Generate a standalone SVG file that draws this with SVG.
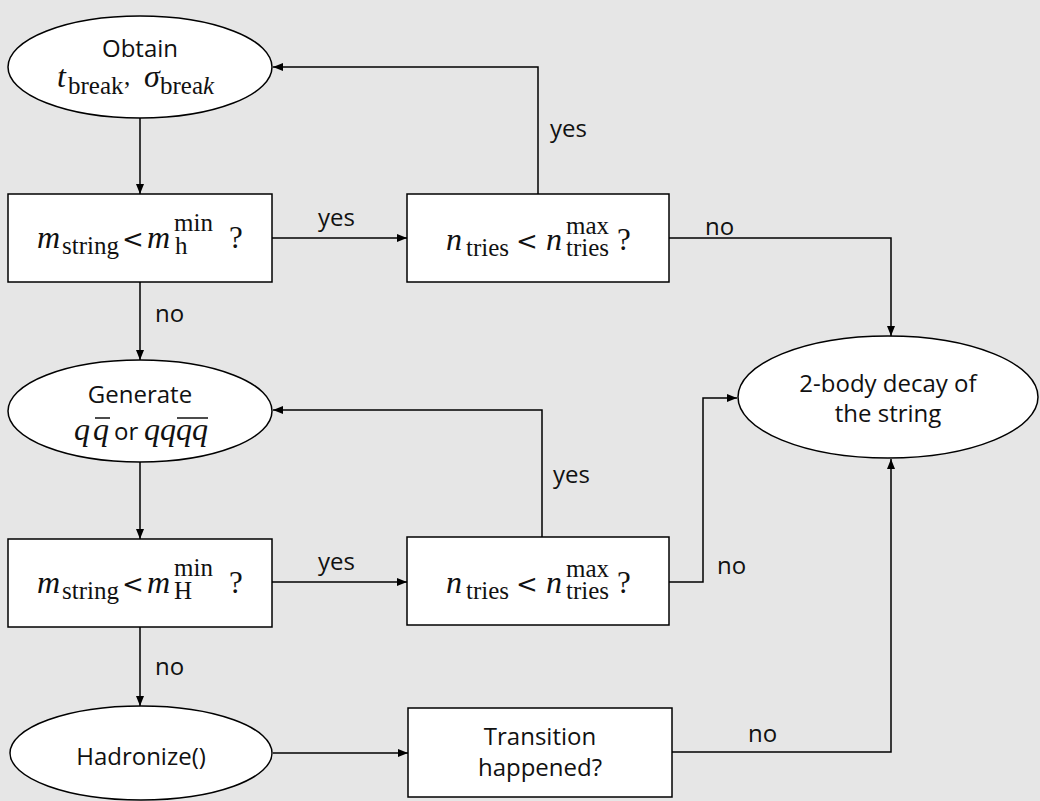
<svg xmlns="http://www.w3.org/2000/svg" width="1040" height="801" viewBox="0 0 1040 801">
<defs>
<marker id="arr" markerUnits="userSpaceOnUse" markerWidth="10" markerHeight="10" viewBox="0 0 10 10" refX="10" refY="5" orient="auto">
<path d="M0,1 L10,5 L0,9 Z" fill="#000"/>
</marker>
<style>
.shape{fill:#fff;stroke:#000;stroke-width:1.5}
.conn{fill:none;stroke:#000;stroke-width:1.5;marker-end:url(#arr)}
.line{fill:none;stroke:#111;stroke-width:1.5}
.t{font-family:"Open Sans","Noto Sans",sans-serif;font-size:24px;fill:#111}
.m{font-family:"Liberation Serif","DejaVu Serif",serif;font-size:31px;fill:#111}
.lt{font-family:"DejaVu Serif","Liberation Serif",serif;font-size:26px;fill:#111}
.mi{font-family:"Liberation Serif","DejaVu Serif",serif;font-size:32px;font-style:italic;fill:#111}
.s{font-family:"Liberation Serif","DejaVu Serif",serif;font-size:25px;fill:#111}
.lbl{font-family:"Open Sans","Noto Sans",sans-serif;font-size:24px;fill:#111}
</style>
</defs>
<rect width="1040" height="801" fill="#e6e6e6"/>

<g id="connectors">
<path class="conn" d="M140 118 V194"/>
<path class="conn" d="M272 238 H407"/>
<path class="conn" d="M538 194 V67 H273"/>
<path class="conn" d="M669 238 H891 V336"/>
<path class="conn" d="M140 282 V360"/>
<path class="conn" d="M140 462 V539"/>
<path class="conn" d="M272 582 H407"/>
<path class="conn" d="M542 537 V410 H273"/>
<path class="conn" d="M669 582 H703 V398 H737"/>
<path class="conn" d="M140 627 V706"/>
<path class="conn" d="M273 753 H408"/>
<path class="conn" d="M672 752 H891 V459"/>
<text class="lbl" x="550" y="137">yes</text>
<text class="lbl" x="318" y="226">yes</text>
<text class="lbl" x="705" y="235">no</text>
<text class="lbl" x="155" y="322">no</text>
<text class="lbl" x="553" y="483">yes</text>
<text class="lbl" x="318" y="570">yes</text>
<text class="lbl" x="717" y="574">no</text>
<text class="lbl" x="155" y="675">no</text>
<text class="lbl" x="748" y="742">no</text>
</g>

<g id="obtain">
<ellipse class="shape" cx="140" cy="67" rx="132" ry="51"/>
<text class="t" x="140" y="57" text-anchor="middle">Obtain</text>
<text class="mi" x="57" y="87">t</text>
<text class="s" x="68" y="94">break</text>
<text class="s" x="124" y="85">,</text>
<text class="mi" x="144" y="87">σ</text>
<text class="s" x="160" y="94">brea<tspan font-style="italic">k</tspan></text>
</g>

<g id="check-h">
<rect class="shape" x="8" y="194" width="264" height="88"/>
<text class="mi" x="37" y="248">m</text>
<text class="s" x="62" y="254">string</text>
<text class="lt" x="122" y="248">&lt;</text>
<text class="mi" x="147" y="248">m</text>
<text class="s" x="174" y="231">min</text>
<text class="s" x="175" y="254">h</text>
<text class="m" x="229" y="248">?</text>
</g>

<g id="tries-1">
<rect class="shape" x="407" y="194" width="262" height="88"/>
<text class="mi" x="446" y="250">n</text>
<text class="s" x="466" y="256">tries</text>
<text class="lt" x="516" y="250">&lt;</text>
<text class="mi" x="546" y="250">n</text>
<text class="s" x="566" y="234">max</text>
<text class="s" x="566" y="256">tries</text>
<text class="m" x="617" y="250">?</text>
</g>

<g id="generate">
<ellipse class="shape" cx="140" cy="411" rx="132" ry="51"/>
<text class="t" x="140" y="403" text-anchor="middle">Generate</text>
<text class="mi" x="74" y="440">q</text>
<text class="mi" x="93" y="440">q</text>
<line class="line" x1="95" y1="418" x2="110" y2="418"/>
<text class="t" x="114" y="440">or</text>
<text class="mi" x="144" y="440">qq</text>
<text class="mi" x="176" y="440">qq</text>
<line class="line" x1="177" y1="418" x2="208" y2="418"/>
</g>

<g id="check-H">
<rect class="shape" x="8" y="539" width="264" height="88"/>
<text class="mi" x="37" y="593">m</text>
<text class="s" x="62" y="599">string</text>
<text class="lt" x="122" y="593">&lt;</text>
<text class="mi" x="147" y="593">m</text>
<text class="s" x="174" y="576">min</text>
<text class="s" x="174" y="599">H</text>
<text class="m" x="229" y="593">?</text>
</g>

<g id="tries-2">
<rect class="shape" x="407" y="537" width="262" height="88"/>
<text class="mi" x="446" y="593">n</text>
<text class="s" x="466" y="599">tries</text>
<text class="lt" x="516" y="593">&lt;</text>
<text class="mi" x="546" y="593">n</text>
<text class="s" x="566" y="577">max</text>
<text class="s" x="566" y="599">tries</text>
<text class="m" x="617" y="593">?</text>
</g>

<g id="decay">
<ellipse class="shape" cx="888" cy="397" rx="150" ry="61"/>
<text class="t" x="888" y="392" text-anchor="middle">2-body decay of</text>
<text class="t" x="888" y="422" text-anchor="middle">the string</text>
</g>

<g id="hadronize">
<ellipse class="shape" cx="141" cy="753" rx="131" ry="47"/>
<text class="t" x="141" y="765" text-anchor="middle">Hadronize()</text>
</g>

<g id="transition">
<rect class="shape" x="408" y="708" width="264" height="89"/>
<text class="t" x="540" y="745" text-anchor="middle">Transition</text>
<text class="t" x="540" y="776" text-anchor="middle">happened?</text>
</g>
</svg>
